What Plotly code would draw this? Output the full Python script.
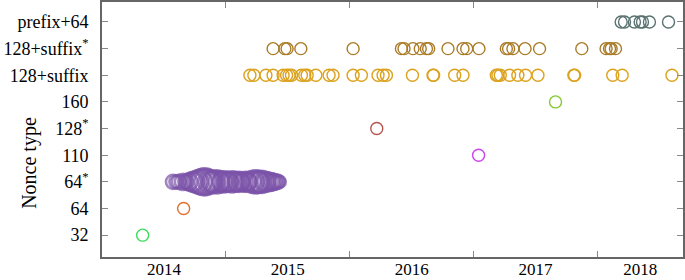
import plotly.graph_objects as go

# Nonce type categories, bottom to top
categories = ["32", "64", "64*", "110", "128*", "160", "128+suffix", "128+suffix*", "prefix+64"]
category_labels = ["32", "64", "64<sup>*</sup>", "110", "128<sup>*</sup>", "160",
                   "128+suffix", "128+suffix<sup>*</sup>", "prefix+64"]

# Dates in decimal years
t_32 = [2014.328]
t_64 = [2014.659]
t_110 = [2017.040]
t_128s = [2016.218]
t_160 = [2017.661]

t_64s = [2014.573, 2014.597, 2014.621, 2014.653, 2014.677, 2014.702, 2014.726, 2014.742,
         2014.766, 2014.790, 2014.815, 2014.831, 2014.847, 2014.871, 2014.887, 2014.903,
         2014.927, 2014.944, 2014.968, 2014.984, 2015.008, 2015.024, 2015.048, 2015.065,
         2015.089, 2015.105, 2015.121, 2015.145, 2015.161, 2015.177, 2015.202, 2015.218,
         2015.242, 2015.258, 2015.274, 2015.290, 2015.315, 2015.331, 2015.355, 2015.371,
         2015.387, 2015.403, 2015.419, 2015.435]
n_64s = [14, 13, 14, 16, 15, 17, 19, 20, 22, 24, 26, 27, 25, 23, 21, 22, 23, 21, 20, 21,
         20, 19, 21, 20, 19, 20, 18, 19, 20, 18, 20, 22, 23, 22, 21, 22, 20, 19, 18, 17,
         16, 15, 14, 12]

t_suffix = [2015.194, 2015.226, 2015.323, 2015.381, 2015.462, 2015.490, 2015.510, 2015.530,
            2015.610, 2015.637, 2015.656, 2015.726, 2015.833, 2015.865, 2016.027, 2016.094,
            2016.228, 2016.269, 2016.296, 2016.506, 2016.672, 2016.677, 2016.847, 2016.914,
            2017.183, 2017.196, 2017.215, 2017.290, 2017.357, 2017.419, 2017.519, 2017.809,
            2017.815, 2018.123, 2018.199, 2018.601]
t_suffix_s = [2015.381, 2015.476, 2015.494, 2015.605, 2016.027, 2016.417, 2016.438, 2016.510,
              2016.569, 2016.619, 2016.637, 2016.793, 2016.914, 2016.944, 2017.043, 2017.264,
              2017.282, 2017.317, 2017.415, 2017.532, 2017.873, 2018.069, 2018.097, 2018.110,
              2018.145]
t_prefix = [2018.191, 2018.218, 2018.298, 2018.344, 2018.363, 2018.419, 2018.573]

year_labels = ["2014", "2015", "2016", "2017", "2018"]
year_label_pos = [2014.5, 2015.5, 2016.5, 2017.5, 2018.345]
year_bounds = [2015, 2016, 2017, 2018]

series = [
    ("32", t_32, "#3fdc5c", None),
    ("64", t_64, "#e0702e", None),
    ("64*", t_64s, "#7b52a8", n_64s),
    ("110", t_110, "#cc44ee", None),
    ("128*", t_128s, "#b4544e", None),
    ("160", t_160, "#86c832", None),
    ("128+suffix", t_suffix, "#dca21e", None),
    ("128+suffix*", t_suffix_s, "#a97b27", None),
    ("prefix+64", t_prefix, "#5c7272", None),
]

fig = go.Figure()
for cat, xs, color, sizes in series:
    yi = categories.index(cat)
    fig.add_trace(go.Scatter(
        x=xs, y=[yi] * len(xs), mode="markers",
        marker=dict(symbol="circle-open", size=sizes if sizes else 12, color=color,
                    line=dict(width=2.6 if sizes else 1.4, color=color)),
        showlegend=False, hoverinfo="x+y"))

font_family = "Liberation Serif"
fig.update_layout(
    width=685, height=280,
    margin=dict(l=102, r=2, t=2, b=23),
    plot_bgcolor="white", paper_bgcolor="white",
    font=dict(family=font_family, size=18, color="black"),
    xaxis=dict(range=[2014.0, 2018.69], showgrid=False, zeroline=False, automargin=False,
               showline=True, linecolor="#666666", linewidth=1.6, mirror="allticks",
               tickmode="array", tickvals=year_label_pos, ticktext=year_labels, ticks="",
               tickfont=dict(size=17), ticklabelstandoff=-4,
               minor=dict(tickmode="array", tickvals=year_bounds, ticks="inside",
                          ticklen=6, tickcolor="#888888", tickwidth=1, showgrid=False)),
    yaxis=dict(range=[-0.82, 8.75], showgrid=False, zeroline=False, automargin=False,
               showline=True, linecolor="#666666", linewidth=1.6, mirror="allticks",
               tickmode="array", tickvals=list(range(len(categories))),
               ticktext=category_labels, ticks="inside", ticklen=6,
               tickcolor="#888888", tickwidth=1, tickfont=dict(size=18),
               ticklabelstandoff=8),
    annotations=[dict(text="Nonce type", xref="paper", yref="paper", x=-0.124, y=0.369,
                      textangle=-90, showarrow=False, xanchor="center", yanchor="middle",
                      font=dict(size=20, family=font_family))],
)

fig.write_html("out.html", config={"displayModeBar": False},
               post_script="document.body.style.margin='0';document.body.style.overflow='hidden';")
